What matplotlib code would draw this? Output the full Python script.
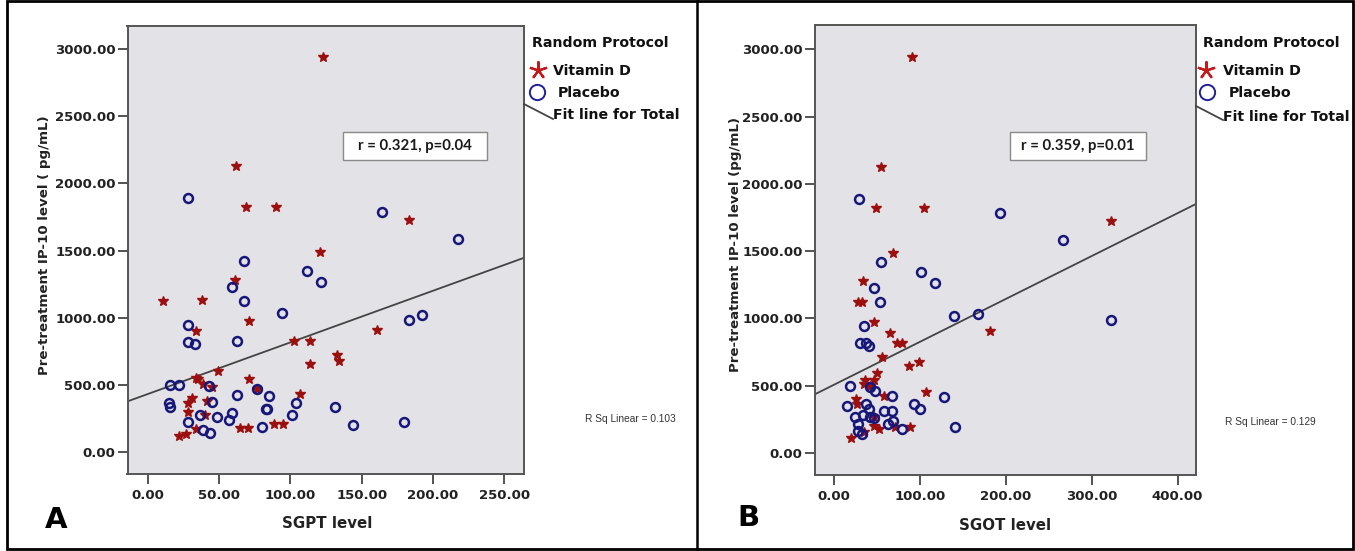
import numpy as np
import matplotlib
matplotlib.use("Agg")
import matplotlib.pyplot as plt
from matplotlib.lines import Line2D
from matplotlib.patches import Rectangle

# ---------------- data ----------------
# Panel A: SGPT level vs pre-treatment IP-10
sgpt_vitd_x = [123.1, 61.9, 68.9, 89.9, 183.2, 121.0, 61.0, 10.5, 37.8, 71.0,
               33.9, 160.7, 102.8, 114.0, 114.0, 132.5, 134.1, 49.0, 33.9, 35.3,
               39.0, 45.3, 71.0, 76.8, 30.8, 27.8, 41.8, 106.7, 28.0, 40.2,
               33.9, 64.7, 70.1, 88.5, 95.0, 21.9, 26.8]
sgpt_vitd_y = [2943, 2129, 1821, 1826, 1727, 1488, 1279, 1125, 1130, 974,
               899, 907, 825, 825, 651, 718, 676, 601, 551, 539,
               507, 484, 539, 465, 398, 360, 380, 428, 298, 273,
               167, 179, 179, 206, 206, 117, 132]
sgpt_plac_x = [28.0, 164.0, 217.3, 67.7, 111.9, 121.7, 59.1, 67.7, 93.9, 183.2,
               192.0, 28.0, 28.0, 33.2, 62.8, 15.6, 21.9, 43.0, 76.8, 62.8,
               85.0, 44.8, 103.7, 14.9, 15.6, 131.3, 36.7, 48.8, 59.3, 57.0,
               82.7, 83.8, 100.9, 28.0, 39.0, 43.9, 79.9, 144.1, 179.9]
sgpt_plac_y = [1893, 1784, 1585, 1423, 1349, 1267, 1232, 1125, 1031, 986,
               1019, 944, 820, 803, 825, 497, 497, 490, 465, 422,
               415, 368, 365, 365, 335, 333, 273, 261, 291, 236,
               321, 316, 271, 224, 162, 142, 184, 196, 221]

# Panel B: SGOT level vs pre-treatment IP-10
sgot_vitd_x = [91.2, 54.7, 49.7, 105.1, 322.9, 69.1, 33.7, 28.4, 33.0, 46.5,
               65.6, 74.1, 79.5, 181.4, 56.6, 87.2, 98.8, 50.0, 36.9, 46.5,
               34.9, 42.7, 107.8, 59.0, 25.8, 27.4, 46.5, 46.5, 52.3, 71.7,
               88.4, 20.6, 34.9]
sgot_vitd_y = [2945, 2126, 1817, 1824, 1722, 1487, 1278, 1122, 1122, 973,
               894, 820, 820, 904, 713, 649, 673, 594, 545, 539,
               515, 495, 452, 420, 398, 361, 266, 197, 175, 192,
               192, 110, 153]
sgot_plac_x = [29.1, 193.8, 266.7, 54.7, 102.0, 117.9, 46.5, 54.0, 139.5, 167.9,
               322.9, 34.9, 30.8, 37.7, 40.7, 18.6, 41.9, 47.7, 67.9, 127.9,
               15.6, 37.7, 93.8, 100.8, 41.5, 58.1, 68.3, 24.4, 34.2, 42.7,
               47.3, 27.9, 62.8, 69.4, 28.4, 33.0, 79.9, 140.7]
sgot_plac_y = [1891, 1784, 1581, 1420, 1345, 1264, 1229, 1122, 1018, 1030,
               985, 941, 820, 817, 797, 495, 490, 458, 420, 413,
               351, 366, 361, 329, 326, 311, 314, 266, 284, 266,
               259, 217, 217, 234, 160, 138, 177, 192]

x_ticks_a = [0, 50, 100, 150, 200, 250]
x_ticks_b = [0, 100, 200, 300, 400]
y_ticks = [0, 500, 1000, 1500, 2000, 2500, 3000]
stats_a = "r = 0.321, p=0.04"
stats_b = "r = 0.359, p=0.01"
rsq_a = "R Sq Linear = 0.103"
rsq_b = "R Sq Linear = 0.129"

# ---------------- styling ----------------
W, H = 1355, 551
fig = plt.figure(figsize=(W / 100, H / 100), dpi=100)
fig.patch.set_facecolor("white")

def fx(px):
    return px / W

def fy(py):
    return 1 - py / H

BG = "#e2e2e7"
STAR = "#9c0f0f"
NAVY = "#17177a"
FONT = "DejaVu Sans"
LEG_FS = 10.2

def make_axes(l, r, t, b):
    return fig.add_axes([fx(l), fy(b), fx(r) - fx(l), (b - t) / H])

def style(ax, xt, xlim, ylim):
    ax.set_facecolor(BG)
    ax.set_xlim(*xlim)
    ax.set_ylim(*ylim)
    ax.set_xticks(xt)
    ax.set_xticklabels([f"{v:.2f}" for v in xt])
    ax.set_yticks(y_ticks)
    ax.set_yticklabels([f"{v:.2f}" for v in y_ticks])
    for s in ax.spines.values():
        s.set_color("#555555")
        s.set_linewidth(1.4)
    ax.tick_params(direction="out", length=7, width=1.3, color="#444444",
                   labelsize=9.5, pad=1.5)
    ax.tick_params(axis="x", pad=4)
    for lab in ax.get_xticklabels() + ax.get_yticklabels():
        lab.set_fontfamily(FONT)
        lab.set_fontweight("bold")
        lab.set_color("#222222")

def draw_panel(ax, vx, vy, px_, py_):
    ax.plot(vx, vy, linestyle="none", marker="*", ms=7, color=STAR,
            mec=STAR, zorder=3)
    ax.plot(px_, py_, linestyle="none", marker="o", ms=6.4, mfc="none",
            mec=NAVY, mew=1.8, zorder=4)
    allx = np.array(list(vx) + list(px_), float)
    ally = np.array(list(vy) + list(py_), float)
    k, c = np.polyfit(allx, ally, 1)
    xl = np.array(ax.get_xlim())
    ax.plot(xl, k * xl + c, color="#444444", lw=1.3, zorder=2)

# Panel A
axA = make_axes(127.5, 524, 26, 473.5)
style(axA, x_ticks_a, (-14.3, 263.8), (-162, 3174))
draw_panel(axA, sgpt_vitd_x, sgpt_vitd_y, sgpt_plac_x, sgpt_plac_y)

# Panel B
axB = make_axes(814.5, 1196, 25, 475)
style(axB, x_ticks_b, (-22.4, 421.4), (-164, 3181))
draw_panel(axB, sgot_vitd_x, sgot_vitd_y, sgot_plac_x, sgot_plac_y)

# axis labels
fig.text(fx(45), fy(245), "Pre-treatment IP-10 level ( pg/mL)", rotation=90,
         ha="center", va="center", fontsize=9.6, fontweight="bold",
         family=FONT, color="#222222")
fig.text(fx(735), fy(245), "Pre-treatment IP-10 level (pg/mL)", rotation=90,
         ha="center", va="center", fontsize=9.6, fontweight="bold",
         family=FONT, color="#222222")
fig.text(fx(327), fy(523), "SGPT level", ha="center", va="center",
         fontsize=10.8, fontweight="bold", family=FONT, color="#222222")
fig.text(fx(1005), fy(525), "SGOT level", ha="center", va="center",
         fontsize=10.8, fontweight="bold", family=FONT, color="#222222")

# panel letters
fig.text(fx(56), fy(520), "A", ha="center", va="center", fontsize=21,
         fontweight="bold", family=FONT, color="black")
fig.text(fx(748), fy(518), "B", ha="center", va="center", fontsize=21,
         fontweight="bold", family=FONT, color="black")

# legends
def legend(x0, star_x, circ_x, vit_x, pla_x, line_pts, fit_x, fit_y):
    fig.text(fx(x0), fy(43), "Random Protocol", ha="left", va="center",
             fontsize=LEG_FS, fontweight="bold", family=FONT, color="#111111")
    fig.add_artist(Line2D([fx(star_x)], [fy(70)], transform=fig.transFigure,
                          marker=(5, 2, 0), ms=13, mew=1.6, color="#c41a1a",
                          linestyle="none"))
    fig.text(fx(vit_x), fy(71), "Vitamin D", ha="left", va="center",
             fontsize=LEG_FS, fontweight="bold", family=FONT, color="#111111")
    fig.add_artist(Line2D([fx(circ_x)], [fy(92)], transform=fig.transFigure,
                          marker="o", ms=11, mew=1.4, mfc="none", mec="#1f1f9a",
                          linestyle="none"))
    fig.text(fx(pla_x), fy(93), "Placebo", ha="left", va="center",
             fontsize=LEG_FS, fontweight="bold", family=FONT, color="#111111")
    (ax0, ay0), (ax1, ay1) = line_pts
    fig.add_artist(Line2D([fx(ax0), fx(ax1)], [fy(ay0), fy(ay1)],
                          transform=fig.transFigure, color="#444444", lw=1.3))
    fig.text(fx(fit_x), fy(fit_y), "Fit line for Total", ha="left", va="center",
             fontsize=LEG_FS, fontweight="bold", family=FONT, color="#111111")

legend(532, 538, 537, 553, 558, ((524, 104), (553, 119)), 553, 115)
legend(1203, 1206, 1207, 1223, 1229, ((1196, 106), (1223, 120)), 1223, 117)

# stats boxes
def stat_box(l, r, t, b, text):
    fig.add_artist(Rectangle((fx(l), fy(b)), fx(r) - fx(l), (b - t) / H,
                             transform=fig.transFigure, facecolor="white",
                             edgecolor="#8a8a8a", lw=1.0, zorder=5))
    fig.text(fx((l + r) / 2), fy((t + b) / 2), text, ha="center", va="center",
             fontsize=10.8, fontweight="bold", family="Lato", color="#1a1a1a",
             zorder=6)

stat_box(343, 487, 132, 160, stats_a)
stat_box(1010, 1146, 132, 160, stats_b)

fig.text(fx(585), fy(419), rsq_a, ha="left", va="center", fontsize=7.3,
         family="Liberation Sans", color="#333333")
fig.text(fx(1225), fy(422), rsq_b, ha="left", va="center", fontsize=7.3,
         family="Liberation Sans", color="#333333")

# outer frames
fig.add_artist(Rectangle((fx(7), fy(549)), fx(1353) - fx(7), (549 - 1) / H,
                         transform=fig.transFigure, facecolor="none",
                         edgecolor="black", lw=2))
fig.add_artist(Line2D([fx(697), fx(697)], [fy(1), fy(549)],
                      transform=fig.transFigure, color="black", lw=1.8))

fig.savefig("out.png", dpi=100)
